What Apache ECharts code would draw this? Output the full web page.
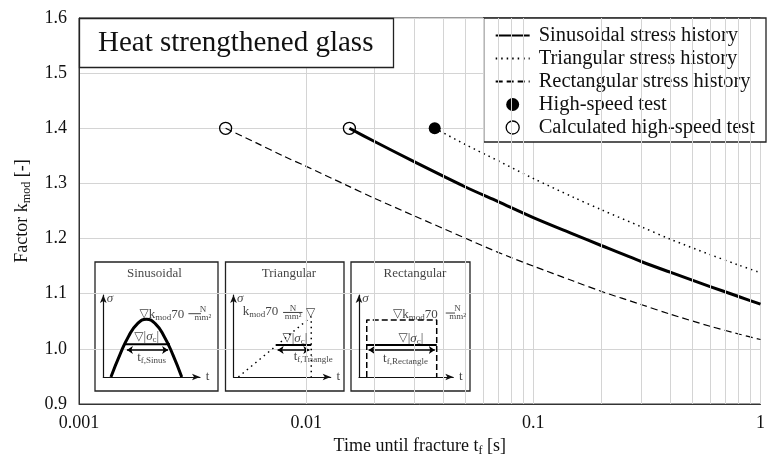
<!DOCTYPE html>
<html><head><meta charset="utf-8">
<script src="https://cdn.jsdelivr.net/npm/echarts@6/dist/echarts.min.js"></script>
<style>html,body{margin:0;padding:0;background:#fff}#c{width:768px;height:462px}</style>
</head><body><div id="c"></div>
<script>
// ---------- data ----------
const xTickLabels = ['0.001', '0.01', '0.1', '1'];
const yTickLabels = ['0.9', '1.0', '1.1', '1.2', '1.3', '1.4', '1.5', '1.6'];
const minorX = [0.002,0.003,0.004,0.005,0.006,0.007,0.008,0.009,
                0.02,0.03,0.04,0.05,0.06,0.07,0.08,0.09,
                0.2,0.3,0.4,0.5,0.6,0.7,0.8,0.9];
const seriesNames = ['Sinusoidal stress history', 'Triangular stress history',
                     'Rectangular stress history', 'High-speed test', 'Calculated high-speed test'];
const sinusT = [0.0155, 0.02, 0.03, 0.05, 0.07, 0.1, 0.15, 0.2, 0.3, 0.4, 0.6, 0.8, 1];
const sinusK = [1.400, 1.376, 1.339, 1.294, 1.267, 1.238, 1.208, 1.187, 1.158, 1.139, 1.113, 1.095, 1.081];
const triT = [0.0368, 0.05, 0.07, 0.1, 0.15, 0.2, 0.3, 0.4, 0.6, 0.8, 1];
const triK = [1.400, 1.371, 1.341, 1.309, 1.275, 1.252, 1.221, 1.199, 1.171, 1.152, 1.138];
const rectT = [0.00442, 0.006, 0.008, 0.01, 0.015, 0.02, 0.03, 0.05, 0.07, 0.1, 0.15, 0.2, 0.3, 0.4, 0.6, 0.8, 1];
const rectK = [1.400, 1.374, 1.349, 1.331, 1.297, 1.273, 1.241, 1.201, 1.175, 1.150, 1.123, 1.104, 1.080, 1.063, 1.041, 1.027, 1.017];
const testT = [0.0368];
const testK = [1.4];
const calcT = [0.00442, 0.0155];
const calcK = [1.4, 1.4];
const insetTitles = ['Sinusoidal', 'Triangular', 'Rectangular'];
const insetSubs = ['f,Sinus', 'f,Triangle', 'f,Rectangle'];
// inset sketch shapes (inset units 0..10)
const sineX = [0.79, 1.71, 2.62, 3.54, 4.45, 5.37, 6.28, 7.20, 8.11];
const sineY = [0, 2.70, 4.98, 6.51, 7.05, 6.51, 4.98, 2.70, 0];
const rampX = [0.5, 8.0, 8.0];
const rampY = [0, 7.35, 0];
const boxX = [0.82, 0.82, 8.24, 8.24];
const boxY = [0, 6.95, 6.95, 0];

// ---------- build ----------
const FONT = 'Liberation Serif';
const INK = '#111';
const zip = (a, b) => a.map((v, i) => [v, b[i]]);

const rich = {
  n: {fontFamily: FONT, fontSize: 13, color: INK, lineHeight: 15},
  h: {fontFamily: FONT, fontSize: 13, color: INK},
  sub: {fontFamily: FONT, fontSize: 9, color: INK, verticalAlign: 'bottom', lineHeight: 9},
  g: {fontFamily: FONT, fontSize: 13, fontStyle: 'italic', color: INK, lineHeight: 15},
  tri: {fontFamily: 'DejaVu Sans', fontSize: 12, color: INK, lineHeight: 15},
  fr: {fontFamily: FONT, fontSize: 9, color: INK, lineHeight: 8}
};
function txt(x, y, text, left) {
  return {value: [x, y], label: {show: true, formatter: text,
          position: left ? 'right' : 'inside', distance: 0, rich: rich}};
}

const boxGrids = [
  {left: 95, top: 262, width: 123, height: 129},
  {left: 225.5, top: 262, width: 118.5, height: 129},
  {left: 351, top: 262, width: 119, height: 129}
];
const innerGrids = [
  {left: 103.3, top: 295, width: 96.7, height: 82},
  {left: 233.5, top: 295, width: 97.2, height: 82},
  {left: 359, top: 295, width: 94.3, height: 82}
];

const grids = [{left: 79, top: 18, right: 2, bottom: 58, show: true,
                borderColor: '#333', borderWidth: 1, backgroundColor: 'transparent'}];
boxGrids.forEach(g => grids.push(Object.assign({show: true, borderColor: '#222', borderWidth: 1.3,
                 backgroundColor: 'transparent'}, g)));
innerGrids.forEach(g => grids.push(Object.assign({}, g)));

const xAxes = [{
  type: 'log', logBase: 10, min: 0.001, max: 1, gridIndex: 0,
  axisLine: {show: true, lineStyle: {color: '#333', width: 1}},
  axisTick: {show: false},
  axisLabel: {fontFamily: FONT, fontSize: 18, color: INK, margin: 10,
              formatter: v => xTickLabels[Math.round(Math.log10(v)) + 3]},
  splitLine: {show: true, lineStyle: {color: '#d4d4d4', width: 1}},
  name: '{m|Time until fracture t}{s|f}{m| [s]}', nameLocation: 'middle', nameGap: 24,
  nameTextStyle: {rich: {
    m: {fontFamily: FONT, fontSize: 18, color: INK, lineHeight: 22},
    s: {fontFamily: FONT, fontSize: 12, color: INK, verticalAlign: 'bottom', lineHeight: 12}}}
}];
const yAxes = [{
  type: 'value', min: 0.9, max: 1.6, interval: 0.1, gridIndex: 0,
  axisLine: {show: true, lineStyle: {color: '#333', width: 1}},
  axisTick: {show: false},
  axisLabel: {fontFamily: FONT, fontSize: 18, color: INK, margin: 12,
              formatter: v => yTickLabels[Math.round((v - 0.9) * 10)]},
  splitLine: {show: true, lineStyle: {color: '#d4d4d4', width: 1}},
  name: '{m|Factor k}{s|mod}{m| [-]}', nameLocation: 'middle', nameGap: 46, nameRotate: 90,
  nameTextStyle: {rich: {
    m: {fontFamily: FONT, fontSize: 18, color: INK, lineHeight: 22},
    s: {fontFamily: FONT, fontSize: 12, color: INK, verticalAlign: 'bottom', lineHeight: 12}}}
}];
for (let i = 1; i <= 3; i++) {
  xAxes.push({type: 'value', gridIndex: i, min: 0, max: 10, show: false});
  yAxes.push({type: 'value', gridIndex: i, min: 0, max: 10, show: false});
}
const innerAxis = (g) => ({
  type: 'value', gridIndex: g, min: 0, max: 10,
  axisLine: {show: true, onZero: false, symbol: ['none', 'arrow'], symbolSize: [5, 8],
             lineStyle: {color: INK, width: 1.2}},
  axisTick: {show: false}, axisLabel: {show: false}, splitLine: {show: false}
});
for (let i = 4; i <= 6; i++) { xAxes.push(innerAxis(i)); yAxes.push(innerAxis(i)); }

const series = [
  {type: 'line', data: [], z: 1, silent: true, xAxisIndex: 0, yAxisIndex: 0,
   markLine: {silent: true, symbol: ['none', 'none'], label: {show: false}, animation: false,
              lineStyle: {color: '#d4d4d4', width: 1, type: 'solid'},
              data: minorX.map(v => ({xAxis: v}))}},
  {name: seriesNames[0], type: 'line', data: zip(sinusT, sinusK), smooth: 0.3,
   symbol: 'none', lineStyle: {color: '#000', width: 3, join: 'round'}, itemStyle: {color: '#000'}, z: 3},
  {name: seriesNames[1], type: 'line', data: zip(triT, triK), smooth: 0.3,
   symbol: 'none', lineStyle: {color: '#000', width: 1.5, type: [1.5, 4]}, itemStyle: {color: '#000'}, z: 3},
  {name: seriesNames[2], type: 'line', data: zip(rectT, rectK), smooth: 0.3,
   symbol: 'none', lineStyle: {color: '#000', width: 1.2, type: [7, 4]}, itemStyle: {color: '#000'}, z: 3},
  {name: seriesNames[3], type: 'scatter', data: zip(testT, testK), symbol: 'circle', symbolSize: 12,
   itemStyle: {color: '#000', opacity: 1}, z: 4},
  {name: seriesNames[4], type: 'scatter', data: zip(calcT, calcK), symbol: 'circle', symbolSize: 12,
   itemStyle: {color: 'rgba(255,255,255,0)', borderColor: '#000', borderWidth: 1.3, opacity: 1}, z: 4}
];

// inset sketches
const shapeStyles = [
  {data: zip(sineX, sineY), smooth: 0.5, lineStyle: {color: '#000', width: 3}},
  {data: zip(rampX, rampY), smooth: false, lineStyle: {color: '#000', width: 1.5, type: [1.5, 4]}},
  {data: zip(boxX, boxY), smooth: false, lineStyle: {color: '#000', width: 1.5, type: [6, 3]}}
];
const lvl = [ // sigma_c level line, arrow y, line x range
  {y: 3.99, ay: 3.29, x1: 2.24, x2: 6.9},
  {y: 3.9, ay: 3.29, x1: 4.34, x2: 8.0},
  {y: 3.9, ay: 3.29, x1: 0.82, x2: 8.24}
];
const frac = [ // fraction position and bar
  {x: 10.3, y: 7.72, b1: 8.8, b2: 11.2},
  {x: 6.12, y: 7.87, b1: 5.1, b2: 7.1},
  {x: 10.45, y: 7.8, b1: 9.2, b2: 11.7}
];
const texts = [
  [txt(5.28, 12.56, '{h|' + insetTitles[0] + '}'),
   txt(3.75, 7.65, '{tri|▽}{n|k}{sub|mod}{n|70}', true),
   txt(4.49, 4.91, '{tri|▽}{n||}{g|σ}{sub|c}{n||}'),
   txt(5.0, 2.35, '{n|t}{sub|' + insetSubs[0] + '}')],
  [txt(5.71, 12.56, '{h|' + insetTitles[1] + '}'),
   txt(0.95, 7.96, '{n|k}{sub|mod}{n|70}', true),
   txt(7.94, 7.77, '{tri|▽}'),
   txt(6.31, 4.72, '{tri|▽}{n||}{g|σ}{sub|c}{n||}'),
   txt(8.2, 2.48, '{n|t}{sub|' + insetSubs[1] + '}')],
  [txt(5.94, 12.56, '{h|' + insetTitles[2] + '}'),
   txt(3.6, 7.65, '{tri|▽}{n|k}{sub|mod}{n|70}', true),
   txt(5.5, 4.72, '{tri|▽}{n||}{g|σ}{sub|c}{n||}'),
   txt(4.93, 2.28, '{n|t}{sub|' + insetSubs[2] + '}')]
];
for (let i = 0; i < 3; i++) {
  const ax = 4 + i;
  series.push(Object.assign({type: 'line', xAxisIndex: ax, yAxisIndex: ax, symbol: 'none',
               silent: true, z: 3}, shapeStyles[i]));
  series.push({type: 'line', xAxisIndex: ax, yAxisIndex: ax, symbol: 'none', silent: true, z: 3,
               data: [[lvl[i].x1, lvl[i].y], [lvl[i].x2, lvl[i].y]], lineStyle: {color: '#000', width: 2}});
  series.push({type: 'lines', coordinateSystem: 'cartesian2d', xAxisIndex: ax, yAxisIndex: ax, silent: true,
               z: 3, symbol: ['arrow', 'arrow'], symbolSize: 6,
               lineStyle: {color: '#000', width: 1.5, opacity: 1},
               data: [{coords: [[lvl[i].x1 + 0.2, lvl[i].ay], [lvl[i].x2 - 0.2, lvl[i].ay]]}]});
  series.push({type: 'line', xAxisIndex: ax, yAxisIndex: ax, symbol: 'none', silent: true, z: 3, clip: false,
               data: [[frac[i].b1, frac[i].y], [frac[i].b2, frac[i].y]], lineStyle: {color: INK, width: 0.8}});
  const items = texts[i].concat([
    txt(frac[i].x, frac[i].y, '{fr|N}\n{fr|mm²}'),
    txt(0.69, 9.6, '{g|σ}'),
    txt(10.6, 0.05, '{n|t}', true)
  ]);
  series.push({type: 'scatter', xAxisIndex: ax, yAxisIndex: ax, symbolSize: 0, silent: true, z: 5,
               clip: false, data: items, label: {show: true, rich: rich}});
}

const DOT = 'path://M50,0A50,50,0,1,1,49.99,0Z';
const legendData = [
  {name: seriesNames[0], itemStyle: {opacity: 0}},
  {name: seriesNames[1], itemStyle: {opacity: 0}},
  {name: seriesNames[2], itemStyle: {opacity: 0}},
  {name: seriesNames[3], icon: DOT, itemStyle: {color: '#000', borderWidth: 0, opacity: 1}},
  {name: seriesNames[4], icon: 'circle', itemStyle: {color: 'rgba(255,255,255,0)', borderColor: '#000', borderWidth: 1.3, opacity: 1}}
];

const chart = echarts.init(document.getElementById('c'), null, {renderer: 'canvas'});
chart.setOption({
  animation: false,
  backgroundColor: '#fff',
  title: {text: 'Heat strengthened glass', left: 79, top: 18, backgroundColor: '#fff',
          borderColor: '#222', borderWidth: 1.3, padding: [9, 20, 9, 19],
          textStyle: {fontFamily: FONT, fontSize: 29, fontWeight: 'normal', color: INK, lineHeight: 32}},
  legend: {orient: 'vertical', right: 2, top: 18, data: legendData, selectedMode: false,
           backgroundColor: '#fff', borderColor: '#222', borderWidth: 1.3, borderRadius: 0,
           padding: [7, 11, 4, 11], itemWidth: 34, itemHeight: 13, itemGap: 2,
           textStyle: {fontFamily: FONT, fontSize: 20.5, color: INK, padding: [0, 0, 0, 4]}},
  grid: grids,
  xAxis: xAxes,
  yAxis: yAxes,
  series: series
});
</script></body></html>
